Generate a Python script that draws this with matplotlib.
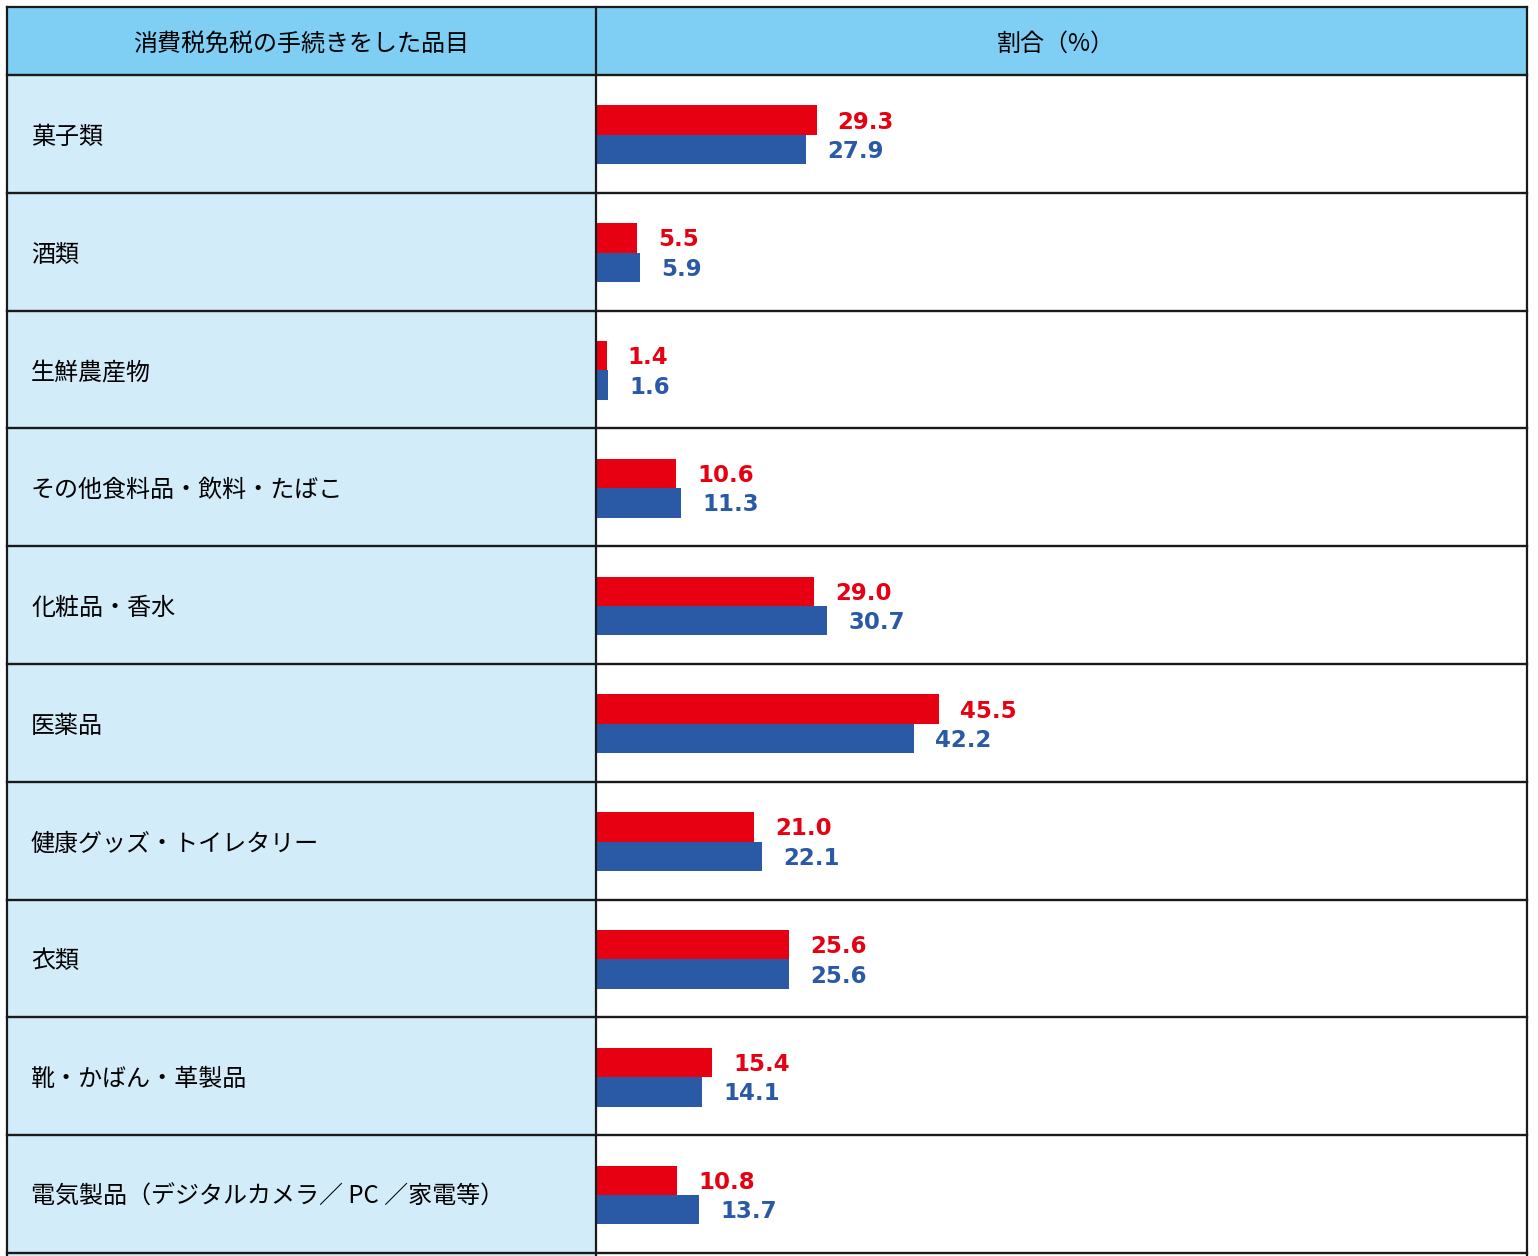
import matplotlib.pyplot as plt
from matplotlib.patches import Rectangle

plt.rcParams['font.family'] = ['Noto Sans CJK JP', 'DejaVu Sans']

categories = ['菓子類', '酒類', '生鮮農産物', 'その他食料品・飲料・たばこ', '化粧品・香水',
              '医薬品', '健康グッズ・トイレタリー', '衣類', '靴・かばん・革製品',
              '電気製品（デジタルカメラ／ PC ／家電等）']
red_vals = [29.3, 5.5, 1.4, 10.6, 29.0, 45.5, 21.0, 25.6, 15.4, 10.8]
blue_vals = [27.9, 5.9, 1.6, 11.3, 30.7, 42.2, 22.1, 25.6, 14.1, 13.7]
header_left = '消費税免税の手続きをした品目'
header_right = '割合（%）'

RED = '#e60012'
BLUE = '#2a5aa6'
HEAD = '#7fcef4'
LEFTC = '#d3ecf9'
LINE = '#1a1a1a'

W, H = 1538, 1256
x0, xm, x1 = 7, 596, 1527
y_top, y_head = 7, 75
row_h = 117.8

fig = plt.figure(figsize=(W / 100, H / 100), dpi=100)

# background table (pixel coords)
bg = fig.add_axes([0, 0, 1, 1], zorder=0)
bg.set_xlim(0, W)
bg.set_ylim(H, 0)
bg.axis('off')
bg.add_patch(Rectangle((x0, y_top), x1 - x0, y_head - y_top, color=HEAD, lw=0))
bg.add_patch(Rectangle((x0, y_head), xm - x0, H - y_head, color=LEFTC, lw=0))
bg.text((x0 + xm) / 2, (y_top + y_head) / 2 + 3, header_left, ha='center', va='center', fontsize=17.3)
bg.text((xm + x1) / 2 - 6, (y_top + y_head) / 2 + 3, header_right, ha='center', va='center', fontsize=17.3)
for i, c in enumerate(categories):
    yc = y_head + row_h * (i + 0.5) + 3
    bg.text(31, yc, c, ha='left', va='center', fontsize=17.3)

# bars
scale = 7.53  # px per percent
ax = fig.add_axes([xm / W, 0, (x1 - xm) / W, (H - y_head) / H], zorder=1)
ax.patch.set_alpha(0)
ax.set_xlim(0, (x1 - xm) / scale)
ax.set_ylim((H - y_head) / row_h - 0.5, -0.5)
ax.axis('off')
ys = [i + 0.008 for i in range(len(categories))]
bh = 0.25
ax.barh([y - bh / 2 for y in ys], red_vals, height=bh, color=RED)
ax.barh([y + bh / 2 for y in ys], blue_vals, height=bh, color=BLUE)
off = 2.8
dy = 0.017
for y, r, b in zip(ys, red_vals, blue_vals):
    ax.text(r + off, y - bh / 2 + dy, f'{r:.1f}', color=RED, fontsize=16.5, fontweight='bold',
            family='DejaVu Sans', ha='left', va='center')
    ax.text(b + off, y + bh / 2 + dy, f'{b:.1f}', color=BLUE, fontsize=16.5, fontweight='bold',
            family='DejaVu Sans', ha='left', va='center')

# grid lines on top
ov = fig.add_axes([0, 0, 1, 1], zorder=2)
ov.patch.set_alpha(0)
ov.set_xlim(0, W)
ov.set_ylim(H, 0)
ov.axis('off')
for x in (x0, xm, x1):
    ov.plot([x, x], [y_top, H], color=LINE, lw=1.6)
ov.plot([x0, x1], [y_top, y_top], color=LINE, lw=1.6)
for k in range(len(categories) + 1):
    y = y_head + row_h * k
    ov.plot([x0, x1], [y, y], color=LINE, lw=1.7)

fig.savefig('out.png', dpi=100)
